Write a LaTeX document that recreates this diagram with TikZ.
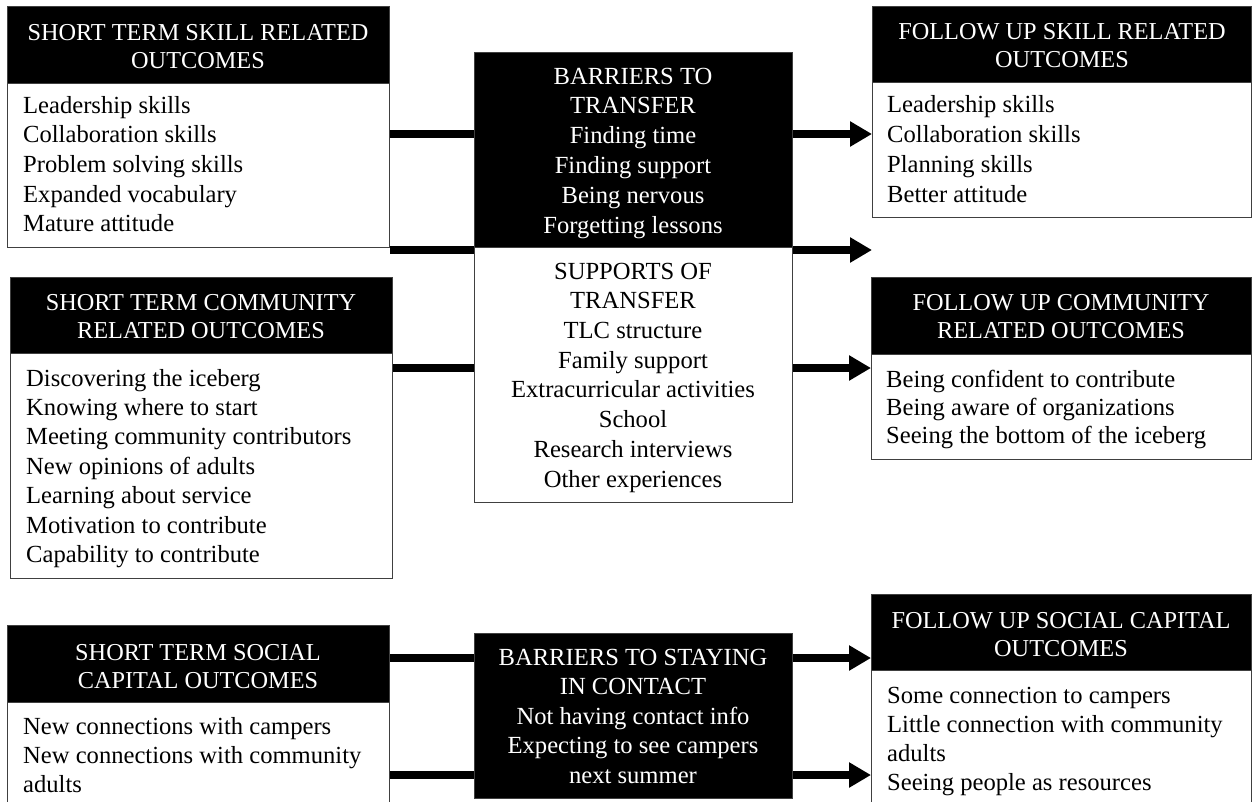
\documentclass[tikz,border=0pt]{standalone}
\usepackage{fontspec}
\setmainfont{Liberation Serif}
\usetikzlibrary{arrows.meta}
\newcommand\myhfont{\rmfamily\fontsize{24.3}{28.5}\selectfont}
\newcommand\mybfont{\rmfamily\fontsize{24.6}{29.7}\selectfont}
\tikzset{
  box/.style={draw=black!75, line width=1.2pt, fill=white, inner sep=0pt, anchor=north west},
  hdr/.style={box, fill=black},
  htxt/.style={text=white, align=center, inner sep=0pt, font=\myhfont, anchor=base},
  btxt/.style={text=black, align=left, inner sep=0pt, font=\mybfont, anchor=base west},
  mtxt/.style={align=center, inner sep=0pt, font=\mybfont, anchor=base},
  conn/.style={line width=8pt},
  arr/.style={conn, -{Triangle[length=22pt,width=24pt]}},
}
% text nodes are placed at the baseline of their LAST line
\begin{document}
\begin{tikzpicture}[x=1pt,y=-1pt]
\useasboundingbox (0,0) rectangle (1252,801);
% ---------- left column ----------
\node[box, minimum width=382pt, minimum height=241pt] (st1) at (7,6) {};
\node[hdr, minimum width=382pt, minimum height=77pt] (st1h) at (7,6) {};
\node[htxt] (st1ht) at (198,68.5) {SHORT TERM SKILL RELATED\\OUTCOMES};
\node[btxt] (st1t) at (23,231.8) {Leadership skills\\Collaboration skills\\Problem solving skills\\Expanded vocabulary\\Mature attitude};

\node[box, minimum width=382pt, minimum height=301pt] (st2) at (10,277) {};
\node[hdr, minimum width=382pt, minimum height=76pt] (st2h) at (10,277) {};
\node[htxt] (st2ht) at (201,338.5) {SHORT TERM COMMUNITY\\RELATED OUTCOMES};
\node[btxt, font=\rmfamily\fontsize{24.6}{29.4}\selectfont] (st2t) at (26,562.4) {Discovering the iceberg\\Knowing where to start\\Meeting community contributors\\New opinions of adults\\Learning about service\\Motivation to contribute\\Capability to contribute};

\node[box, minimum width=382pt, minimum height=200pt] (st3) at (7,625) {};
\node[hdr, minimum width=382pt, minimum height=77pt] (st3h) at (7,625) {};
\node[htxt] (st3ht) at (198,688.5) {SHORT TERM SOCIAL\\CAPITAL OUTCOMES};
\node[btxt, font=\rmfamily\fontsize{24.6}{28.8}\selectfont] (st3t) at (23,792) {New connections with campers\\New connections with community\\adults};

% ---------- middle column ----------
\node[hdr, minimum width=318pt, minimum height=195pt] (bar) at (474,52) {};
\node[box, minimum width=318pt, minimum height=255pt] (sup) at (474,247) {};
\node[mtxt, text=white, font=\rmfamily\fontsize{24.6}{29.8}\selectfont] (bart) at (633,233) {BARRIERS TO\\TRANSFER\\Finding time\\Finding support\\Being nervous\\Forgetting lessons};
\node[mtxt] (supt) at (633,487) {SUPPORTS OF\\TRANSFER\\TLC structure\\Family support\\Extracurricular activities\\School\\Research interviews\\Other experiences};

\node[hdr, minimum width=318pt, minimum height=165pt] (bst) at (474,633) {};
\node[mtxt, text=white, font=\rmfamily\fontsize{24.6}{29.5}\selectfont] (bstt) at (633,783) {BARRIERS TO STAYING\\IN CONTACT\\Not having contact info\\Expecting to see campers\\next summer};

% ---------- right column ----------
\node[box, minimum width=379pt, minimum height=211pt] (fu1) at (872,6) {};
\node[hdr, minimum width=379pt, minimum height=76pt] (fu1h) at (872,6) {};
\node[htxt] (fu1ht) at (1062,67.5) {FOLLOW UP SKILL RELATED\\OUTCOMES};
\node[btxt] (fu1t) at (887,202) {Leadership skills\\Collaboration skills\\Planning skills\\Better attitude};

\node[box, minimum width=380pt, minimum height=182pt] (fu2) at (871,277) {};
\node[hdr, minimum width=380pt, minimum height=77pt] (fu2h) at (871,277) {};
\node[htxt] (fu2ht) at (1061,338.5) {FOLLOW UP COMMUNITY\\RELATED OUTCOMES};
\node[btxt, font=\rmfamily\fontsize{24.6}{28.2}\selectfont] (fu2t) at (886,443.4) {Being confident to contribute\\Being aware of organizations\\Seeing the bottom of the iceberg};

\node[box, minimum width=380pt, minimum height=230pt] (fu3) at (871,594) {};
\node[hdr, minimum width=380pt, minimum height=76pt] (fu3h) at (871,594) {};
\node[htxt] (fu3ht) at (1061,656.5) {FOLLOW UP SOCIAL CAPITAL\\OUTCOMES};
\node[btxt, font=\rmfamily\fontsize{24.6}{29}\selectfont] (fu3t) at (887,790) {Some connection to campers\\Little connection with community\\adults\\Seeing people as resources};

% ---------- connector levels ----------
\coordinate (y1) at (0,134);
\coordinate (y2) at (0,250);
\coordinate (y3) at (0,368);
\coordinate (y4) at (0,658);
\coordinate (y5) at (0,775);

\draw[conn] (st1.east |- y1) -- (bar.west |- y1);
\draw[arr]  (bar.east |- y1) -- (fu1.west |- y1);
\draw[conn] (st1.east |- y2) -- (bar.west |- y2);
\draw[arr]  (bar.east |- y2) -- (fu1.west |- y2);
\draw[conn] (st2.east |- y3) -- (sup.west |- y3);
\draw[arr]  (sup.east |- y3) -- (fu2.west |- y3);
\draw[conn] (st3.east |- y4) -- (bst.west |- y4);
\draw[arr]  (bst.east |- y4) -- (fu3.west |- y4);
\draw[conn] (st3.east |- y5) -- (bst.west |- y5);
\draw[arr]  (bst.east |- y5) -- (fu3.west |- y5);
\end{tikzpicture}
\end{document}
